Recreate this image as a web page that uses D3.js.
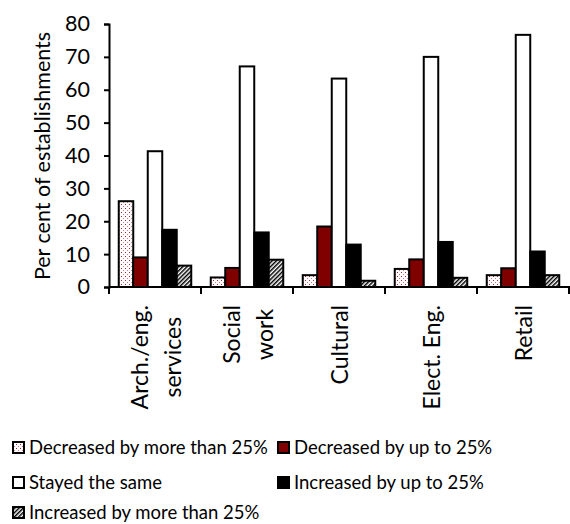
<!DOCTYPE html>
<html>
<head>
<meta charset="utf-8">
<script src="https://cdn.jsdelivr.net/npm/d3@7"></script>
<style>
  html, body { margin: 0; padding: 0; background: #fff; }
  svg { display: block; font-family: Lato, "Open Sans", sans-serif; }
</style>
</head>
<body>
<svg id="chart" width="570" height="524"></svg>
<script>
// Sectors (each label may wrap onto several lines)
const categories = ["Arch./eng. services", "Social work", "Cultural", "Elect. Eng.", "Retail"];
const categoryLines = [["Arch./eng.", "services"], ["Social", "work"], ["Cultural"], ["Elect. Eng."], ["Retail"]];

// Change in establishment size, per cent of establishments
const seriesNames = [
  "Decreased by more than 25%",
  "Decreased by up to 25%",
  "Stayed the same",
  "Increased by up to 25%",
  "Increased by more than 25%"
];
const decreasedMore = [26.1, 2.9, 3.6, 5.5, 3.6];
const decreasedUpTo = [9.0, 5.8, 18.4, 8.4, 5.7];
const stayedSame    = [41.3, 67.1, 63.4, 70.0, 76.7];
const increasedUpTo = [17.4, 16.6, 12.9, 13.7, 10.8];
const increasedMore = [6.5, 8.3, 1.9, 2.8, 3.6];
const seriesValues = [decreasedMore, decreasedUpTo, stayedSame, increasedUpTo, increasedMore];

const yTicks = [0, 10, 20, 30, 40, 50, 60, 70, 80];
const yTitle = "Per cent of establishments";

const svg = d3.select("#chart");

// Fill patterns
const defs = svg.append("defs");
const dots = defs.append("pattern").attr("id", "dots")
  .attr("patternUnits", "userSpaceOnUse").attr("width", 4).attr("height", 4);
dots.append("rect").attr("width", 4).attr("height", 4).attr("fill", "#fff");
dots.append("rect").attr("x", 0).attr("y", 0).attr("width", 1).attr("height", 1).attr("fill", "#b22222");
dots.append("rect").attr("x", 2).attr("y", 2).attr("width", 1).attr("height", 1).attr("fill", "#d08080");

const hatch = defs.append("pattern").attr("id", "hatch")
  .attr("patternUnits", "userSpaceOnUse").attr("width", 3).attr("height", 3)
  .attr("patternTransform", "rotate(45)");
hatch.append("rect").attr("width", 3).attr("height", 3).attr("fill", "#fff");
hatch.append("rect").attr("width", 1.5).attr("height", 3).attr("fill", "#000");

const fills = ["url(#dots)", "#800000", "#ffffff", "#000000", "url(#hatch)"];

const margin = { left: 109, top: 24, bottom: 287, right: 569 };

const x = d3.scaleBand().domain(categories).range([margin.left, margin.right]).padding(0);
const xs = d3.scaleBand().domain(d3.range(seriesNames.length))
  .range([x.bandwidth() * 0.106, x.bandwidth() * 0.894]).padding(0);
const y = d3.scaleLinear().domain([0, 80]).range([margin.bottom, margin.top]);

// Bars
const groups = svg.append("g").selectAll("g").data(categories).join("g")
  .attr("transform", d => `translate(${x(d)},0)`);
groups.selectAll("rect")
  .data((c, ci) => seriesValues.map((vals, si) => ({ si, v: vals[ci] })))
  .join("rect")
  .attr("x", d => xs(d.si))
  .attr("width", xs.bandwidth())
  .attr("y", d => y(d.v))
  .attr("height", d => y(0) - y(d.v))
  .attr("fill", d => fills[d.si])
  .attr("stroke", "#000")
  .attr("stroke-width", 2);

// Y axis
const yAxis = svg.append("g").attr("transform", `translate(${margin.left},0)`)
  .call(d3.axisLeft(y).tickValues(yTicks).tickSize(5).tickPadding(14));
yAxis.select(".domain").attr("stroke-width", 2);
yAxis.selectAll(".tick line").attr("stroke-width", 2);
yAxis.selectAll("text").attr("font-size", 21.5).attr("fill", "#000").attr("font-family", "Lato");

// X axis with ticks between categories
const xAxis = svg.append("g").attr("transform", `translate(0,${margin.bottom})`);
xAxis.append("line").attr("x1", margin.left).attr("x2", margin.right + 1)
  .attr("stroke", "#000").attr("stroke-width", 2);
xAxis.selectAll("line.tk").data(categories.concat([null])).join("line").attr("class", "tk")
  .attr("x1", (d, i) => i < categories.length ? x(d) : margin.right)
  .attr("x2", (d, i) => i < categories.length ? x(d) : margin.right)
  .attr("y1", 0).attr("y2", 7).attr("stroke", "#000").attr("stroke-width", 2);

// Category labels, rotated, lines stacked side by side
const lineGap = 33;
const labelTop = 305;
categoryLines.forEach((lines, ci) => {
  const cx = x(categories[ci]) + x.bandwidth() / 2;
  const g = svg.append("g");
  const texts = lines.map((ln, li) => {
    const px = cx + (li - (lines.length - 1) / 2) * lineGap;
    return g.append("text")
      .attr("transform", `translate(${px},${labelTop}) rotate(-90)`)
      .attr("text-anchor", "end")
      .attr("dominant-baseline", "central")
      .attr("font-size", 23)
      .attr("fill", "#000")
      .text(ln);
  });
  // centre shorter lines within the widest one
  const widths = texts.map(t => t.node().getComputedTextLength());
  const maxW = d3.max(widths);
  texts.forEach((t, li) => {
    const px = cx + (li - (lines.length - 1) / 2) * lineGap;
    t.attr("transform", `translate(${px},${labelTop + (maxW - widths[li]) / 2}) rotate(-90)`);
  });
});

// Y axis title
svg.append("text")
  .attr("transform", `translate(42,156) rotate(-90)`)
  .attr("text-anchor", "middle")
  .attr("dominant-baseline", "central")
  .attr("font-size", 21.5)
  .attr("fill", "#000")
  .text(yTitle);

// Legend (x of swatch, text baseline)
const legendPos = [[12, 454], [277, 454], [12, 489], [277, 489], [12, 519]];
const legend = svg.append("g");
seriesNames.forEach((name, i) => {
  const [lx, ly] = legendPos[i];
  legend.append("rect").attr("x", lx + 1).attr("y", ly - 12).attr("width", 11).attr("height", 11)
    .attr("fill", fills[i]).attr("stroke", "#000").attr("stroke-width", 2);
  legend.append("text").attr("x", lx + 17).attr("y", ly)
    .attr("font-size", 18.5).attr("fill", "#000")
    .text(name);
});
</script>
</body>
</html>
